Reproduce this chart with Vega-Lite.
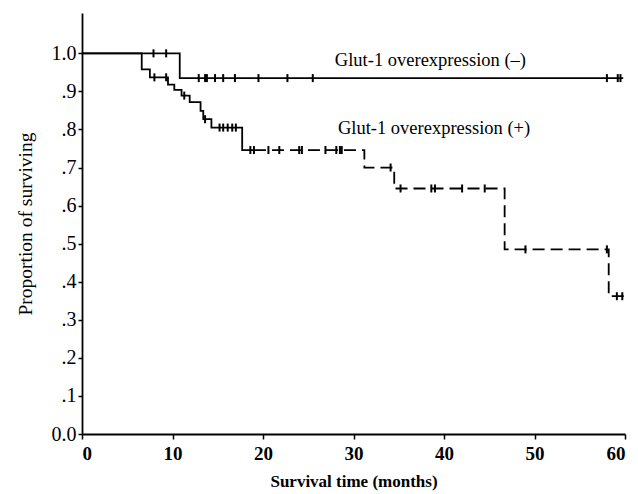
{
  "$schema": "https://vega.github.io/schema/vega-lite/v6.json",
  "autosize": "none",
  "padding": {"left": 82, "top": 13, "right": 13, "bottom": 60},
  "width": 543,
  "height": 421,
  "background": "white",
  "config": {"view": {"stroke": null}, "font": "Liberation Serif"},
  "datasets": {
    "curve": [
      {"group": "neg", "seg": "solid", "t": 0, "s": 1.0},
      {"group": "neg", "seg": "solid", "t": 10.8, "s": 0.935},
      {"group": "neg", "seg": "solid", "t": 59.8, "s": 0.935},
      {"group": "pos", "seg": "solid", "t": 0, "s": 1.0},
      {"group": "pos", "seg": "solid", "t": 6.6, "s": 0.958},
      {"group": "pos", "seg": "solid", "t": 7.5, "s": 0.937},
      {"group": "pos", "seg": "solid", "t": 9.5, "s": 0.918},
      {"group": "pos", "seg": "solid", "t": 10.2, "s": 0.904},
      {"group": "pos", "seg": "solid", "t": 11.0, "s": 0.889},
      {"group": "pos", "seg": "solid", "t": 11.9, "s": 0.872},
      {"group": "pos", "seg": "solid", "t": 13.1, "s": 0.849},
      {"group": "pos", "seg": "solid", "t": 13.4, "s": 0.827},
      {"group": "pos", "seg": "solid", "t": 14.3, "s": 0.805},
      {"group": "pos", "seg": "solid", "t": 17.7, "s": 0.746},
      {"group": "pos", "seg": "solid", "t": 19.0, "s": 0.746},
      {"group": "pos2", "seg": "dashed", "t": 19.0, "s": 0.746},
      {"group": "pos2", "seg": "dashed", "t": 31.2, "s": 0.700},
      {"group": "pos2", "seg": "dashed", "t": 34.5, "s": 0.645},
      {"group": "pos2", "seg": "dashed", "t": 46.7, "s": 0.485},
      {"group": "pos2", "seg": "dashed", "t": 58.2, "s": 0.362},
      {"group": "pos2", "seg": "dashed", "t": 59.9, "s": 0.362}
    ],
    "censor": [
      {"t": 7.9, "s": 1.0}, {"t": 9.3, "s": 1.0},
      {"t": 12.9, "s": 0.935}, {"t": 13.6, "s": 0.935}, {"t": 13.8, "s": 0.935},
      {"t": 14.7, "s": 0.935}, {"t": 15.6, "s": 0.935}, {"t": 16.9, "s": 0.935},
      {"t": 19.5, "s": 0.935}, {"t": 22.7, "s": 0.935}, {"t": 25.5, "s": 0.935},
      {"t": 58.0, "s": 0.935}, {"t": 59.2, "s": 0.935}, {"t": 59.5, "s": 0.935},
      {"t": 8.0, "s": 0.937}, {"t": 9.3, "s": 0.937},
      {"t": 11.3, "s": 0.889}, {"t": 13.6, "s": 0.827},
      {"t": 15.2, "s": 0.805}, {"t": 15.6, "s": 0.805}, {"t": 16.1, "s": 0.805},
      {"t": 16.6, "s": 0.805}, {"t": 17.0, "s": 0.805},
      {"t": 18.6, "s": 0.746}, {"t": 19.0, "s": 0.746}, {"t": 20.6, "s": 0.746},
      {"t": 21.8, "s": 0.746}, {"t": 24.0, "s": 0.746}, {"t": 24.3, "s": 0.746},
      {"t": 26.9, "s": 0.746}, {"t": 28.1, "s": 0.746}, {"t": 28.5, "s": 0.746},
      {"t": 28.7, "s": 0.746},
      {"t": 34.1, "s": 0.700},
      {"t": 35.2, "s": 0.645}, {"t": 38.6, "s": 0.645}, {"t": 39.0, "s": 0.645},
      {"t": 42.0, "s": 0.645}, {"t": 44.5, "s": 0.645},
      {"t": 49.0, "s": 0.485}, {"t": 58.0, "s": 0.485},
      {"t": 59.1, "s": 0.362}, {"t": 59.7, "s": 0.362}
    ],
    "labels": [
      {"t": 38.5, "s": 0.983, "label": "Glut-1 overexpression (–)"},
      {"t": 38.9, "s": 0.804, "label": "Glut-1 overexpression (+)"}
    ]
  },
  "layer": [
    {
      "data": {"name": "curve"},
      "mark": {"type": "line", "interpolate": "step-after", "color": "black", "strokeWidth": 1.8},
      "encoding": {
        "x": {
          "field": "t", "type": "quantitative",
          "scale": {"domain": [0, 60], "nice": false},
          "axis": {
            "title": "Survival time (months)", "values": [0, 10, 20, 30, 40, 50, 60],
            "grid": false, "domainColor": "black", "domainWidth": 1.8, "tickColor": "black",
            "tickWidth": 1.5, "tickSize": 5, "labelFontSize": 19, "labelFontWeight": "bold",
            "labelColor": "black", "labelPadding": 5,
            "titleFontSize": 17, "titleFontWeight": "bold", "titleColor": "black", "titlePadding": 10,
            "labelFont": "Liberation Serif", "titleFont": "Liberation Serif", "labelOverlap": false
          }
        },
        "y": {
          "field": "s", "type": "quantitative",
          "scale": {"domain": [0, 1.106], "nice": false},
          "axis": {
            "title": "Proportion of surviving",
            "values": [0, 0.1, 0.2, 0.3, 0.4, 0.5, 0.6, 0.7, 0.8, 0.9, 1.0],
            "labelExpr": "datum.value == 0 ? '0.0' : (datum.value == 1 ? '1.0' : replace(format(datum.value, '.1f'), '0.', '.'))",
            "grid": false, "domainColor": "black", "domainWidth": 1.8, "tickColor": "black",
            "tickWidth": 1.5, "tickSize": 4, "labelFontSize": 20, "labelColor": "black", "labelPadding": 2,
            "titleFontSize": 19.5, "titleFontWeight": "normal", "titleColor": "black", "titlePadding": 16,
            "labelFont": "Liberation Serif", "titleFont": "Liberation Serif", "labelOverlap": false
          }
        },
        "detail": {"field": "group"},
        "strokeDash": {
          "field": "seg", "type": "nominal",
          "scale": {"domain": ["solid", "dashed"], "range": [[1, 0], [12, 6]]},
          "legend": null
        }
      }
    },
    {
      "data": {"name": "censor"},
      "mark": {"type": "point", "shape": "M0,-1L0,1", "filled": false, "stroke": "black", "strokeWidth": 2, "size": 64, "opacity": 1},
      "encoding": {
        "x": {"field": "t", "type": "quantitative"},
        "y": {"field": "s", "type": "quantitative"}
      }
    },
    {
      "data": {"name": "labels"},
      "mark": {"type": "text", "font": "Liberation Serif", "fontSize": 18.5, "color": "black", "baseline": "middle"},
      "encoding": {
        "x": {"field": "t", "type": "quantitative"},
        "y": {"field": "s", "type": "quantitative"},
        "text": {"field": "label"}
      }
    }
  ]
}
